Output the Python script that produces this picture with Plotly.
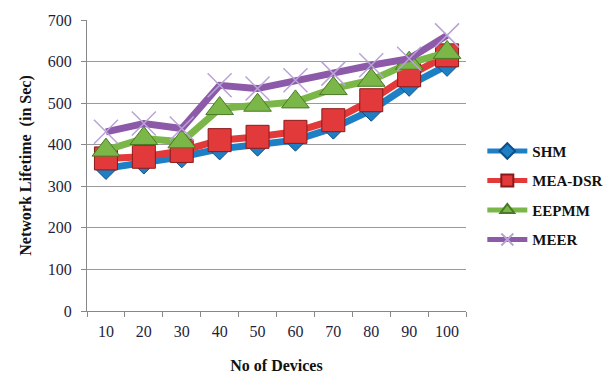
import plotly.graph_objects as go

devices = ["10", "20", "30", "40", "50", "60", "70", "80", "90", "100"]
shm = [343, 356, 371, 390, 399, 411, 440, 483, 543, 591]
mea_dsr = [367, 371, 385, 411, 419, 431, 459, 507, 567, 615]
eepmm = [387, 415, 407, 487, 495, 503, 535, 555, 596, 622]
meer = [431, 451, 439, 543, 535, 555, 571, 591, 607, 663]
y_ticks = [0, 100, 200, 300, 400, 500, 600, 700]

fig = go.Figure()

series = [
    ("SHM", shm, "#1f7fc4", "diamond", 17, "#0f4f86", 1),
    ("MEA-DSR", mea_dsr, "#e23a3a", "square", 23, "#8a1a1a", 1),
    ("EEPMM", eepmm, "#7ab648", "triangle-up", 24, "#4a7a25", 1),
    ("MEER", meer, "#8c5aa8", "x-thin", 24, "#b9a3d6", 1.5),
]

for name, vals, color, sym, size, edge, ew in series:
    fig.add_trace(go.Scatter(
        x=devices, y=vals, name=f"<b>{name}</b>", mode="lines+markers",
        legendgroup=name,
        line=dict(color=color, width=7),
        marker=dict(symbol=sym, size=size, color=color if sym != "x-thin" else edge,
                    line=dict(color=edge, width=ew)),
    ))

fig.update_layout(
    width=616, height=374,
    margin=dict(l=87, r=150, t=20, b=63, autoexpand=False),
    paper_bgcolor="white", plot_bgcolor="white",
    font=dict(family="Liberation Serif", size=16, color="#1e1e3c"),
    showlegend=True,
    legend=dict(
        xref="container", yref="container",
        x=0.783, y=0.478, xanchor="left", yanchor="middle",
        font=dict(family="Liberation Serif", size=15, color="#111111"),
        itemwidth=40, traceorder="grouped", tracegroupgap=7,
        itemsizing="constant",
    ),
)

fig.update_xaxes(
    type="category", range=[-0.5, 9.5], tickson="boundaries", ticks="outside", ticklen=5,
    tickcolor="#888888", showline=True, linecolor="#888888", linewidth=1,
    showgrid=False, tickfont=dict(size=16, color="#1e1e3c"), ticklabelstandoff=6,
    automargin=False,
    title=dict(text="<b>No of Devices</b>", font=dict(size=16, color="#111111"), standoff=22),
)
fig.update_yaxes(
    range=[0, 700], tickvals=y_ticks, ticks="outside", ticklen=5,
    tickcolor="#888888", showline=True, linecolor="#888888", linewidth=1,
    showgrid=True, gridcolor="#9a9a9a", gridwidth=1, zeroline=False,
    tickfont=dict(size=16, color="#1e1e3c"), ticklabelstandoff=6,
    automargin=False,
    title=dict(text="<b>Network Lifetime  (in Sec)</b>", font=dict(size=16, color="#111111"), standoff=12),
)

fig.write_html("out.html")
